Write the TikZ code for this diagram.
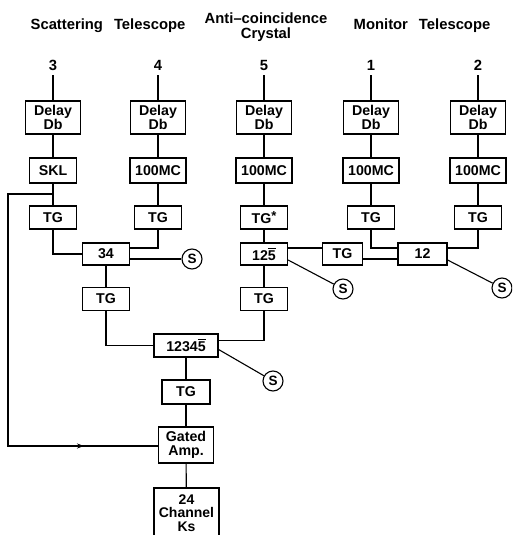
\documentclass[tikz,border=0pt]{standalone}
\usepackage{fontspec}
\setmainfont{Liberation Sans}
\usetikzlibrary{arrows.meta, calc}

% overbar for the anti-coincidence channel
\newcommand{\nbar}[1]{\setbox0\hbox{#1}\rlap{\rule[\dimexpr\ht0+1.6pt\relax]{\wd0}{1.1pt}}\box0}

\begin{document}
\begin{tikzpicture}[
			x=1pt, y=-1pt,
			unit/.style={rectangle, draw=black, line width=1.2pt, minimum width=47pt, minimum height=23pt, inner sep=1pt, align=center, font=\bfseries\fontsize{14.2}{14}\selectfont},
			delay/.style={unit, minimum width=55pt, minimum height=33pt},
			scaler/.style={circle, draw=black, line width=1.1pt, minimum size=20pt, inner sep=0pt, font=\bfseries\fontsize{13.5}{13}\selectfont},
			heading/.style={align=center, font=\bfseries\fontsize{14.8}{15}\selectfont},
			chan/.style={inner sep=5pt, font=\bfseries\fontsize{14.8}{15}\selectfont},
			wire/.style={line width=1.1pt, draw=black}
			]
			
			\useasboundingbox (0,0) rectangle (512,535);
			\clip (0,0) rectangle (512,535);
			
			% Headings
			\node[heading] (hscat) at (108,26) {Scattering\hspace{11pt}Telescope};
			\node[heading] (hanti) at (266,27) {Anti--coincidence\\Crystal};
			\node[heading] (hmon) at (422,26) {Monitor\hspace{11pt}Telescope};
			
			% Counter numbers
			\node[chan] (n3) at (53,65) {3};
			\node[chan] (n4) at (158,65) {4};
			\node[chan] (n5) at (264,65) {5};
			\node[chan] (n1) at (371,65) {1};
			\node[chan] (n2) at (478,65) {2};
			
			% Delays
			\node[delay] (d3) at (53,117.5) {Delay\\Db};
			\node[delay] (d4) at (158,117.5) {Delay\\Db};
			\node[delay] (d5) at (264,117.5) {Delay\\Db};
			\node[delay] (d1) at (371,117.5) {Delay\\Db};
			\node[delay] (d2) at (478,117.5) {Delay\\Db};
			
			% Discriminators
			\node[unit, minimum height=25pt] (skl) at (53,170.5) {SKL};
			\node[unit, minimum width=56pt, minimum height=25pt] (mc4) at (158,170.5) {100MC};
			\node[unit, minimum width=56pt, minimum height=25pt] (mc5) at (264,170.5) {100MC};
			\node[unit, minimum width=56pt, minimum height=25pt] (mc1) at (371,170.5) {100MC};
			\node[unit, minimum width=56pt, minimum height=25pt] (mc2) at (478,170.5) {100MC};
			
			% Gates
			\node[unit] (tg3) at (53,217.5) {TG};
			\node[unit] (tg4) at (158,217.5) {TG};
			\node[unit] (tg5) at (264,217.5) {TG\raisebox{3pt}{\fontsize{13}{13}\selectfont*}};
			\node[unit] (tg1) at (371,217.5) {TG};
			\node[unit] (tg2) at (478,217.5) {TG};
			
			% Coincidences
			\node[unit, minimum height=22pt] (c34) at (106,254) {34};
			\node[unit, minimum height=22pt] (c125) at (264,254) {12\nbar{5}};
			\node[unit, minimum width=40pt, minimum height=22pt] (tgm) at (342.5,254) {TG};
			\node[unit, minimum width=49pt, minimum height=22pt] (c12) at (422.5,254) {12};
			\node[unit] (tg34) at (106,299) {TG};
			\node[unit] (tg125) at (264,299) {TG};
			\node[unit, minimum width=64pt] (c12345) at (186,345.5) {1234\nbar{5}};
			\node[unit, minimum width=48pt, minimum height=24pt] (tgb) at (186,392) {TG};
			\node[unit, minimum width=55pt, minimum height=36pt] (amp) at (186,445) {Gated\\Amp.};
			\node[unit, minimum width=65pt, minimum height=58pt, font=\bfseries\fontsize{14}{13.5}\selectfont] (ks) at (186.5,517) {24\\Channel\\Ks\\[-5pt]};
			
			% Scalers
			\node[scaler] (s34) at (192,259) {S};
			\node[scaler] (s125) at (343,289) {S};
			\node[scaler] (s12) at (502,288) {S};
			\node[scaler] (s12345) at (273,381) {S};
			
			% Vertical chains
			\foreach \c/\m in {3/skl, 4/mc4, 5/mc5, 1/mc1, 2/mc2}
			{
				\draw[wire] (n\c) -- (d\c);
				\draw[wire] (d\c) -- (\m);
			}
			\draw[wire] (skl) -- (tg3);
			\draw[wire] (mc4) -- (tg4);
			\draw[wire] (mc5) -- (tg5);
			\draw[wire] (mc1) -- (tg1);
			\draw[wire] (mc2) -- (tg2);
			
			% Scattering telescope coincidence
			\draw[wire] (tg3) |- (c34);
			\draw[wire] (tg4) |- ([yshift=6pt]c34.east);
			\draw[wire] ([yshift=-5pt]c34.east) -- (s34);
			\draw[wire] (c34) -- (tg34);
			\draw[wire] (tg34) |- (c12345);
			
			% Monitor and anti-coincidence
			\draw[wire] (tg5) -- (c125);
			\draw[wire] (c125) -- (tg125);
			\draw[wire] ([yshift=6pt]c125.east) -- ([yshift=6pt]tgm.west);
			\draw[wire] ([yshift=-5pt]tgm.east) -- ([yshift=-5pt]c12.west);
			\draw[wire] (tg1) |- ([yshift=6pt]c12.west);
			\draw[wire] (tg2) |- ([yshift=6pt]c12.east);
			\draw[wire] ([yshift=-6pt]c125.east) -- (s125);
			\draw[wire] ([yshift=-6pt]c12.east) -- (s12);
			\draw[wire] (tg125) |- ([yshift=5pt]c12345.east);
			\draw[wire] ([yshift=-4pt]c12345.east) -- (s12345);
			
			% Output chain
			\draw[wire] (c12345) -- (tgb);
			\draw[wire] (tgb) -- (amp);
			\draw[wire] (amp) -- (ks);
			
			% Gate signal from SKL
			\coordinate (fb) at (53,194);
			\coordinate (fbtop) at (8,194);
			\coordinate (fbbot) at (8,446);
			\coordinate (fbarr) at (84,446);
			\draw[wire] (fb) -- (fbtop) -- (fbbot) -- (fbbot -| amp.west);
			\draw[wire, -{Stealth[length=7pt, width=5pt]}] (fbbot) -- (fbarr);
			
		\end{tikzpicture}
\end{document}
